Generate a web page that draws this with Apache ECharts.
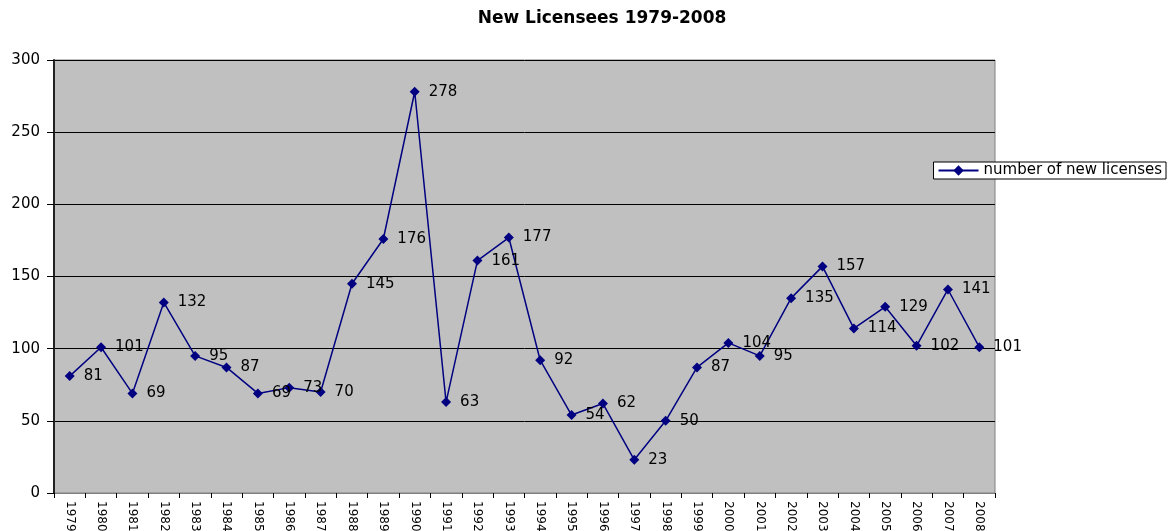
<!DOCTYPE html>
<html><head><meta charset="utf-8">
<script src="https://cdn.jsdelivr.net/npm/echarts@6/dist/echarts.min.js"></script>
<style>html,body{margin:0;padding:0;background:#fff}#c{width:1172px;height:531px}</style>
</head><body><div id="c"></div>
<script>
const years = ['1979','1980','1981','1982','1983','1984','1985','1986','1987','1988','1989','1990','1991','1992','1993','1994','1995','1996','1997','1998','1999','2000','2001','2002','2003','2004','2005','2006','2007','2008'];
const licenses = [81,101,69,132,95,87,69,73,70,145,176,278,63,161,177,92,54,62,23,50,87,104,95,135,157,114,129,102,141,101];
const seriesName = 'number of new licenses';
const titleText = 'New Licensees 1979-2008';

const FONT = 'DejaVu Sans, Liberation Sans, Arial, sans-serif';
const chart = echarts.init(document.getElementById('c'));
chart.setOption({
  animation: false,
  textStyle: {fontFamily: FONT},
  title: {text: titleText, left: 597, top: 5, textAlign: 'center',
    textStyle: {fontSize: 17, fontWeight: 'bold', color: '#000', fontFamily: FONT}},
  legend: {
    right: 6, top: 162, orient: 'vertical',
    backgroundColor: '#fff', borderColor: '#000', borderWidth: 1,
    padding: [1, 4, 1, 4], itemWidth: 40, itemHeight: 13, itemGap: 0,
    textStyle: {fontSize: 15, color: '#000', fontFamily: FONT},
    data: [seriesName]
  },
  grid: {left: 54, right: 177, top: 60, bottom: 38, show: true, outerBoundsMode: 'none', containLabel: false,
    backgroundColor: '#C0C0C0', borderColor: '#808080', borderWidth: 1},
  xAxis: {
    type: 'category', data: years, boundaryGap: true,
    axisLine: {lineStyle: {color: '#808080', width: 1}},
    axisTick: {show: true, length: 5, lineStyle: {color: '#000'}},
    axisLabel: {rotate: -90, fontSize: 12, color: '#000', margin: 8, interval: 0, fontFamily: FONT}
  },
  yAxis: {
    type: 'value', min: 0, max: 300, interval: 50,
    axisLine: {show: true, lineStyle: {color: '#222', width: 2}},
    axisTick: {show: true, length: 7, lineStyle: {color: '#000'}},
    axisLabel: {fontSize: 15, color: '#000', margin: 14, fontFamily: FONT},
    splitLine: {lineStyle: {color: '#000', width: 1}}
  },
  series: [{
    name: seriesName, type: 'line', data: licenses,
    symbol: 'diamond', symbolSize: 10,
    lineStyle: {color: '#000080', width: 1.5},
    itemStyle: {color: '#000080'},
    label: {show: true, position: 'right', distance: 9, fontSize: 15, color: '#000', fontFamily: FONT}
  }]
});
</script></body></html>
